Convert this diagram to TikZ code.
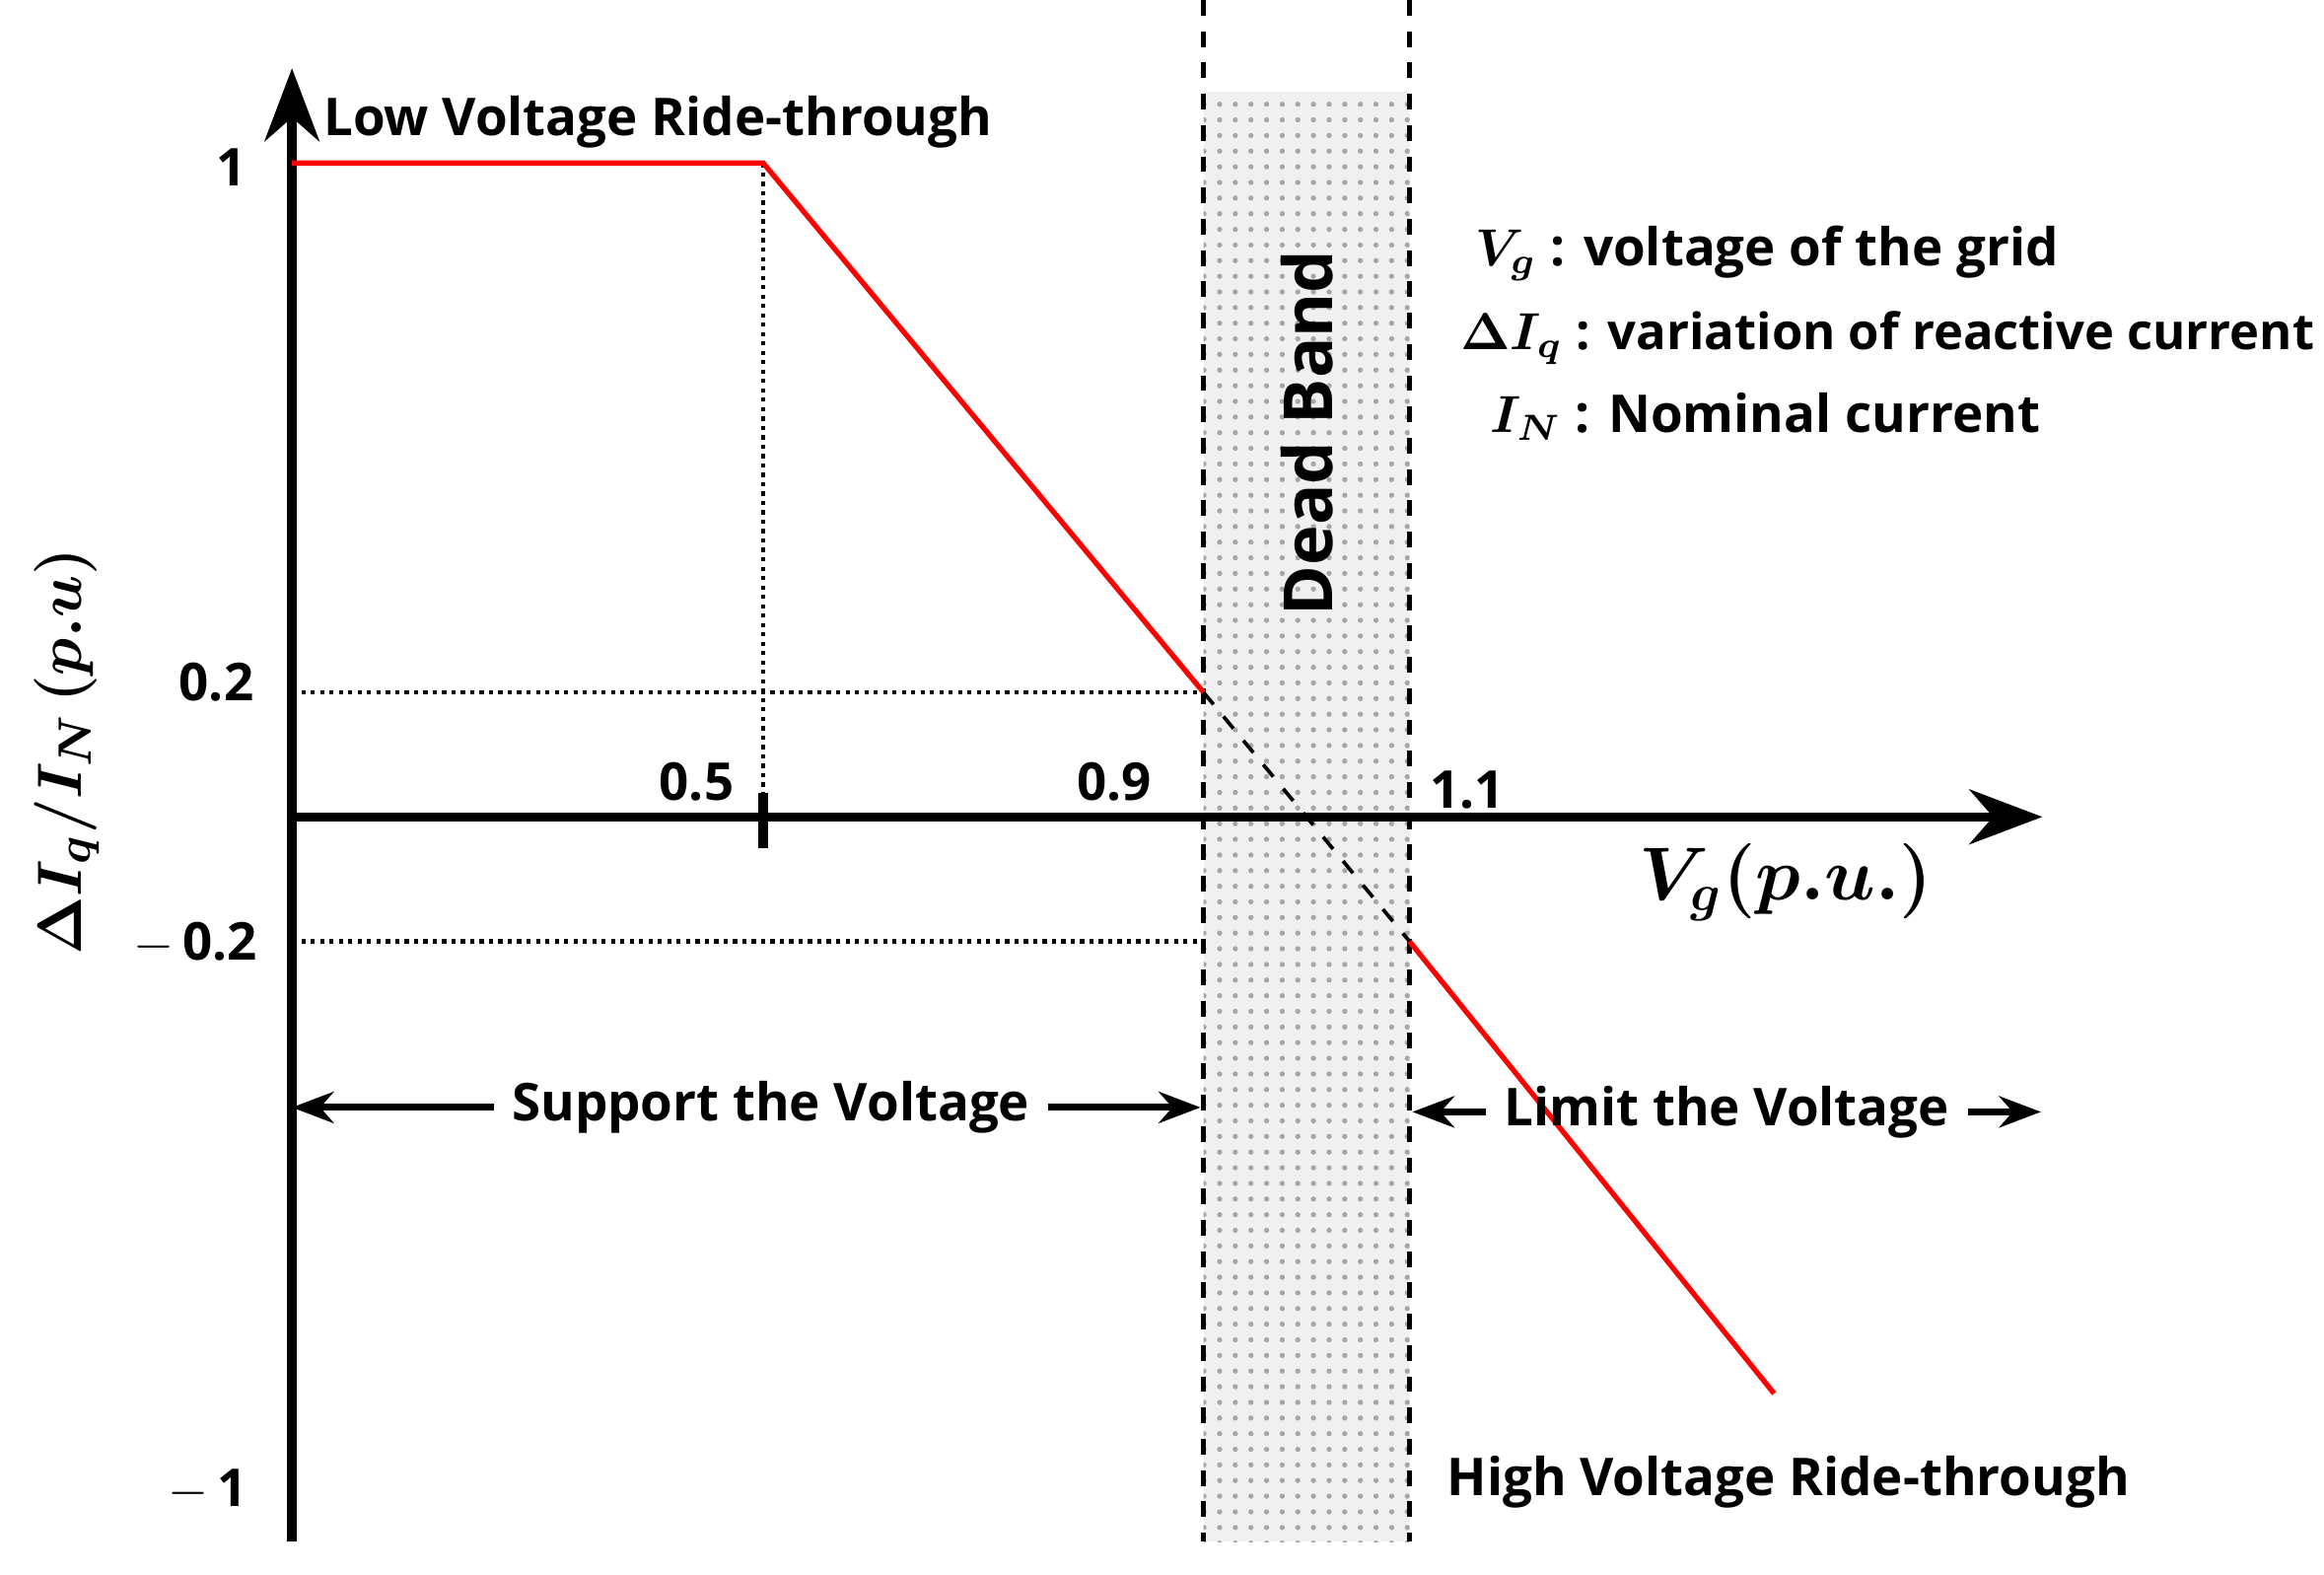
\documentclass[tikz,border=0pt]{standalone}
\usepackage{fontspec}
\usepackage{amsmath,bm}
\setmainfont{Open Sans}
\usetikzlibrary{patterns,arrows.meta}
\tikzset{
  lbl/.style={font=\bfseries\fontsize{10}{12}\selectfont},
  curve/.style={red,line width=1pt},
  guide/.style={densely dotted,line width=0.8pt},
  band/.style={dashed,line width=0.9pt},
  span/.style={-{Stealth[length=8pt]},line width=1.3pt}
}
\begin{document}
\begin{tikzpicture}[x=0.01cm,y=-0.01cm]
    \useasboundingbox (0,0) rectangle (1568,1062);
    % Dead band
    \fill[gray!12] (812,62) rectangle (951,1040);
    \fill[pattern=dots,pattern color=gray!70] (812,62) rectangle (951,1040);
    \draw[band] (812,0) -- (812,1040);
    \draw[band] (951,0) -- (951,1040);
    \node[rotate=90,font=\bfseries\fontsize{13}{15}\selectfont] (db) at (882,292) {Dead Band};

    % Axes
    \coordinate (o) at (197,551);
    \draw[-{Stealth[length=14pt]},line width=1.8pt] (197,1040) -- (197,46) coordinate (ytop);
    \draw[-{Stealth[length=14pt]},line width=1.8pt] (197,551) -- (1378,551) coordinate (xend);
    \draw[line width=1.8pt] (515,535) -- (515,572);

    % Guides
    \coordinate (knee) at (515,110);
    \coordinate (p9) at (812,467);
    \coordinate (p11) at (951,635);
    \draw[guide] (knee) -- (515,551);
    \draw[guide] (197,467) -- (p9);
    \draw[guide] (197,635) -- (812,635);

    % Characteristic
    \draw[curve] (197,110) -- (knee) -- (p9);
    \draw[band,line width=0.7pt] (p9) -- (p11);
    \draw[curve] (p11) -- (1197,940);

    % Tick labels
    \node[lbl] (y1) at (156,113) {1};
    \node[lbl] (y2) at (146,460) {0.2};
    \node[lbl] (y3) at (132,636) {$-$\,0.2};
    \node[lbl] (y4) at (140,1005) {$-$\,1};
    \node[lbl] (x5) at (470,527) {0.5};
    \node[lbl] (x9) at (752,527) {0.9};
    \node[lbl] (x11) at (990,533) {1.1};

    % Axis titles
    \node[font=\fontsize{14.5}{16}\selectfont] (xt) at (1205,595) {$\bm{V_g(p.u.)}$};
    \node[rotate=90,font=\fontsize{12.5}{14}\selectfont] (yt) at (45,507) {$\bm{\Delta I_q/I_N\,(p.u)}$};
    \node[lbl,anchor=west] (lvrt) at (206,82) {Low Voltage Ride-through};
    \node[lbl,anchor=west] (hvrt) at (964,1000) {High Voltage Ride-through};

    % Legend
    \node[lbl,anchor=west] (l1) at (983,171) {$\bm{V_g}$ : voltage of the grid};
    \node[lbl,anchor=west,font=\bfseries\fontsize{9.6}{12}\selectfont] (l2) at (973,228) {$\bm{\Delta I_q}$ : variation of reactive current};
    \node[lbl,anchor=west] (l3) at (993,281) {$\bm{I_N}$ : Nominal current};

    % Regions
    \node[lbl] (sup) at (520,747) {Support the Voltage};
    \coordinate (s0) at (197,747);
    \coordinate (s1) at (810,747);
    \draw[span] (sup.west) -- (s0);
    \draw[span] (sup.east) -- (s1);
    \node[lbl] (lim) at (1165,750) {Limit the Voltage};
    \coordinate (m0) at (953,750);
    \coordinate (m1) at (1377,750);
    \draw[span] (lim.west) -- (m0);
    \draw[span] (lim.east) -- (m1);
\end{tikzpicture}
\end{document}
